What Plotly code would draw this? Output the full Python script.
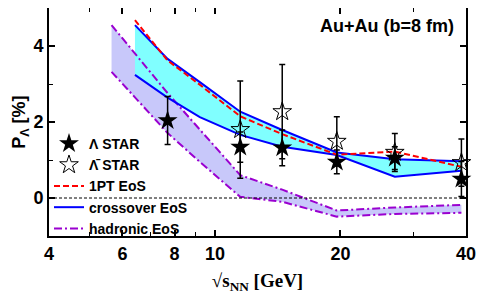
import plotly.graph_objects as go

# ---- data ----
star_energy = [7.7, 11.5, 14.5, 19.6, 27, 39]
lambda_P = [2.04, 1.34, 1.32, 0.95, 1.05, 0.50]
lambda_err = [0.63, 0.40, 0.47, 0.31, 0.30, 0.46]

abar_energy = [11.5, 14.5, 19.6, 27, 39]
abar_P = [1.80, 2.27, 1.49, 1.20, 0.93]
abar_err = [1.28, 1.24, 0.65, 0.50, 0.62]

model_energy = [6.43, 7.7, 9.2, 11.5, 14.5, 19.6, 27, 39]
pt1_P = [4.68, 3.62, 2.98, 2.15, 1.68, 1.14, 1.22, 0.82]
cross_hi = [4.55, 3.66, 3.05, 2.27, 1.79, 1.20, 1.02, 0.97]
cross_lo = [3.24, 2.64, 2.13, 1.66, 1.35, 1.13, 0.56, 0.72]

had_energy = [5.65, 7.7, 9.2, 11.5, 14.5, 19.6, 27, 39]
had_hi = [4.55, 2.76, 1.80, 0.60, 0.22, -0.33, -0.25, -0.18]
had_lo = [3.32, 1.71, 0.95, 0.03, -0.10, -0.49, -0.42, -0.39]

x_tickvals = [4, 6, 8, 10, 20, 40]
x_minor = [5, 7, 9, 30]

BLUE = "#0000FF"
RED = "#FF0000"
PURPLE = "#9A00D0"
CYAN_FILL = "#80FFFF"
LAV_FILL = "#C8C8FA"

fig = go.Figure()

# hadronic band
fig.add_trace(go.Scatter(
    x=had_energy + had_energy[::-1], y=had_hi + had_lo[::-1],
    fill="toself", fillcolor=LAV_FILL, line=dict(width=0),
    mode="lines", showlegend=False, hoverinfo="skip"))
# crossover band
fig.add_trace(go.Scatter(
    x=model_energy + model_energy[::-1], y=cross_hi + cross_lo[::-1],
    fill="toself", fillcolor=CYAN_FILL, line=dict(width=0),
    mode="lines", showlegend=False, hoverinfo="skip"))

dashdot = "8px,3px,2px,3px"
fig.add_trace(go.Scatter(x=had_energy, y=had_hi, mode="lines",
                         line=dict(color=PURPLE, width=2, dash=dashdot),
                         name="hadronic EoS", legendrank=5))
fig.add_trace(go.Scatter(x=had_energy, y=had_lo, mode="lines",
                         line=dict(color=PURPLE, width=2, dash=dashdot),
                         showlegend=False))
fig.add_trace(go.Scatter(x=model_energy, y=cross_hi, mode="lines",
                         line=dict(color=BLUE, width=2),
                         name="crossover EoS", legendrank=4))
fig.add_trace(go.Scatter(x=model_energy, y=cross_lo, mode="lines",
                         line=dict(color=BLUE, width=2),
                         showlegend=False))
fig.add_trace(go.Scatter(x=model_energy, y=pt1_P, mode="lines",
                         line=dict(color=RED, width=2, dash="6px,3px"),
                         name="1PT EoS", legendrank=3))

fig.add_trace(go.Scatter(
    x=abar_energy, y=abar_P, mode="markers", name="Λ̄ STAR", legendrank=2,
    cliponaxis=False,
    marker=dict(symbol="star-open", size=14, color="black",
                line=dict(color="black", width=1)),
    error_y=dict(type="data", array=abar_err, color="black", thickness=1.5, width=3)))
fig.add_trace(go.Scatter(
    x=star_energy, y=lambda_P, mode="markers", name="Λ STAR", legendrank=1,
    cliponaxis=False,
    marker=dict(symbol="star", size=15, color="black"),
    error_y=dict(type="data", array=lambda_err, color="black", thickness=1.5, width=3)))

# zero reference line
fig.add_shape(type="line", xref="paper", x0=0, x1=1, yref="y", y0=0, y1=0,
              line=dict(color="black", width=1, dash="3px,2px"), layer="above")

fig.add_annotation(text="<b>Au+Au (b=8 fm)</b>", xref="paper", yref="paper",
                   x=0.975, y=0.92, xanchor="right", yanchor="middle",
                   showarrow=False, font=dict(size=18, color="black",
                                              family="Liberation Sans, Arial"))
# y-axis title
fig.add_annotation(text="<b>P<sub>Λ</sub> [%]</b>", xref="paper", yref="paper",
                   x=-0.07, y=0.5, xanchor="center", yanchor="middle", textangle=-90,
                   showarrow=False, font=dict(size=18, color="black",
                                              family="Liberation Sans, Arial"))

fig.update_xaxes(
    type="log", range=[0.60206, 1.60206], automargin=False,
    tickvals=x_tickvals, ticktext=[str(v) for v in x_tickvals],
    ticks="inside", ticklen=6, tickwidth=1.5, tickcolor="black",
    minor=dict(tickvals=x_minor, ticks="inside", ticklen=4, tickcolor="black", tickwidth=1.2),
    showline=True, linecolor="black", linewidth=2, mirror="ticks",
    showgrid=False, zeroline=False,
    tickfont=dict(size=18, color="black", family="Liberation Sans, Arial", weight="bold"),
    title=dict(text="√s<sub>NN</sub> [GeV]", standoff=11,
               font=dict(size=19, color="black", family="Liberation Serif, Times New Roman",
                         weight="bold")))
fig.update_yaxes(
    range=[-1, 5], tickvals=[0, 2, 4], automargin=False,
    ticks="inside", ticklen=6, tickwidth=1.5, tickcolor="black",
    minor=dict(tickvals=[-1, 1, 3, 5], ticks="inside", ticklen=4, tickcolor="black", tickwidth=1.2),
    showline=True, linecolor="black", linewidth=2, mirror="ticks",
    showgrid=False, zeroline=False,
    tickfont=dict(size=18, color="black", family="Liberation Sans, Arial", weight="bold"))

fig.update_layout(
    width=485, height=296,
    margin=dict(l=41, r=27, t=0, b=68, autoexpand=False),
    paper_bgcolor="white", plot_bgcolor="white",
    showlegend=True,
    legend=dict(x=0.0, y=-0.035, xanchor="left", yanchor="bottom",
                bgcolor="rgba(0,0,0,0)", borderwidth=0,
                font=dict(size=14, color="black", family="Liberation Sans, Arial", weight="bold"),
                itemwidth=30, tracegroupgap=0),
)

fig.write_html("out.html")
